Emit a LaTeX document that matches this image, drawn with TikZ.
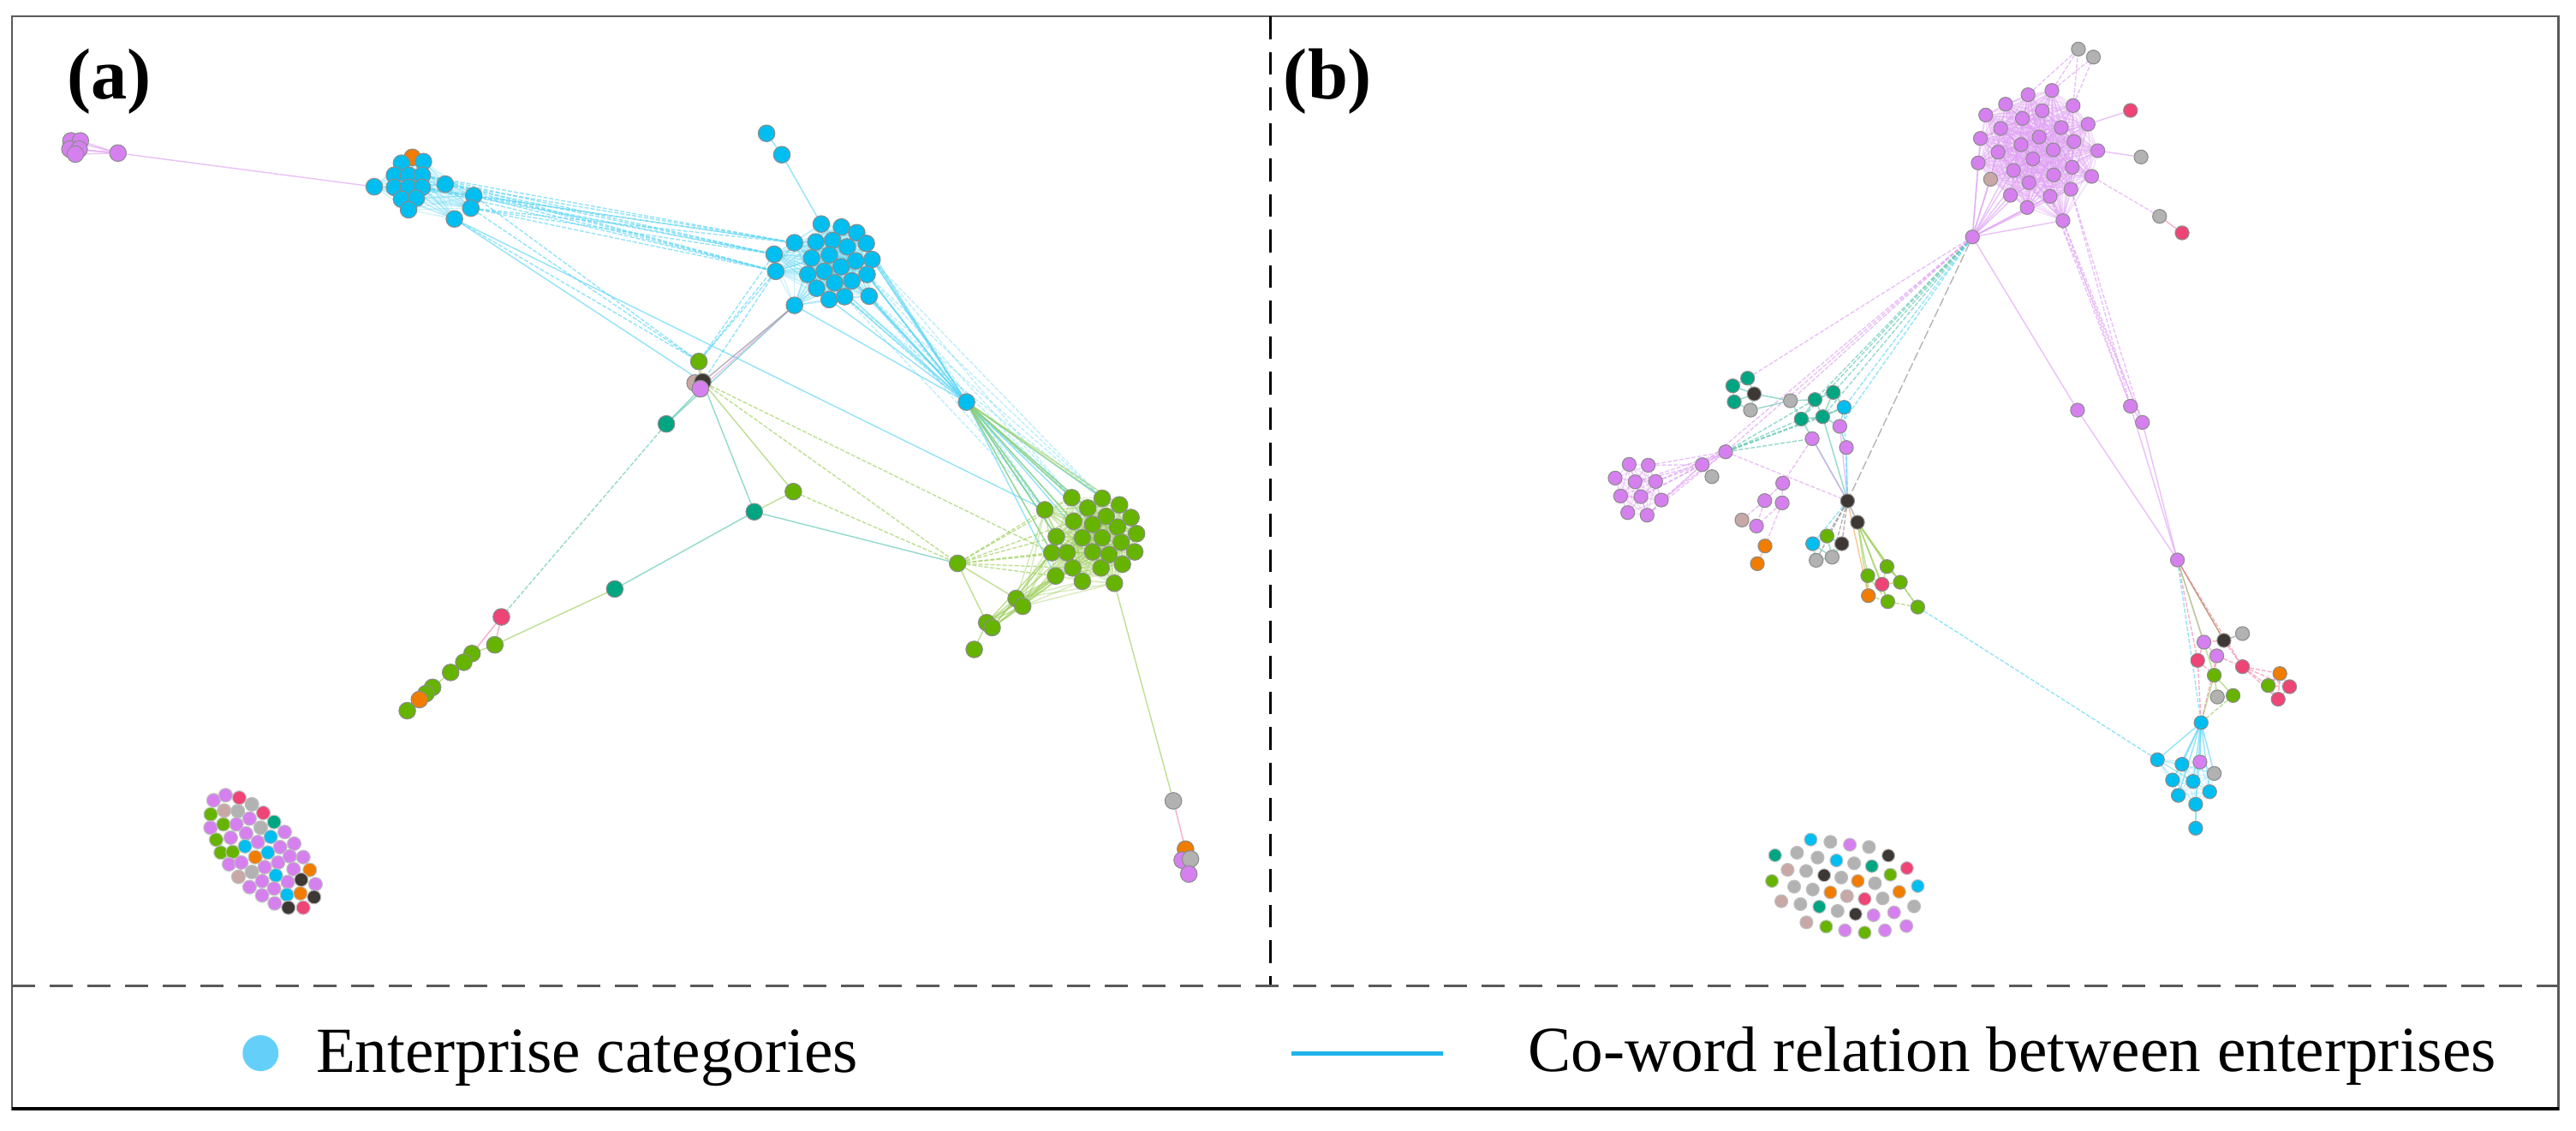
\documentclass[tikz,border=0pt]{standalone}
\usepackage{fontspec}
\setmainfont{Liberation Serif}
\pgfdeclarelayer{bglayer}
\pgfdeclarelayer{edgelayer}
\pgfsetlayers{bglayer,edgelayer,main}
\definecolor{cbl}{RGB}{0,190,240}
\definecolor{cgr}{RGB}{102,180,0}
\definecolor{cpu}{RGB}{214,128,240}
\definecolor{cte}{RGB}{0,165,130}
\definecolor{cgy}{RGB}{178,178,178}
\definecolor{cdk}{RGB}{62,56,52}
\definecolor{cor}{RGB}{240,125,0}
\definecolor{cpk}{RGB}{238,68,118}
\definecolor{ctn}{RGB}{200,168,166}
\definecolor{clg}{RGB}{100,208,250}
\definecolor{cll}{RGB}{30,180,235}
\definecolor{cfr}{RGB}{90,90,90}
\tikzset{
 nd/.style={circle, inner sep=0pt, minimum size=1.95mm, draw=black!45, line width=0.3pt},
 nb/.style={nd, minimum size=1.62mm},
 ni/.style={nd, minimum size=1.6mm, draw=black!25},
 ed/.style={line width=0.4pt, opacity=0.65},
 ebl/.style={ed, draw=cbl!65},
 egr/.style={ed, draw=cgr!65},
 epu/.style={ed, draw=cpu!75},
 ete/.style={ed, draw=cte!65},
 epk/.style={ed, draw=cpk!65},
 egy/.style={ed, draw=black!45},
 eor/.style={ed, draw=cor!65},
 ebr/.style={ed, draw=brown!80!black},
 dsh/.style={dash pattern=on 1.4pt off 0.6pt},
 haze/.style={line width=0.35pt, opacity=0.3},
 lbl/.style={anchor=base west, inner sep=0pt, font=\fontsize{24}{24}\selectfont\bfseries},
 legtxt/.style={anchor=base west, inner sep=0pt, font=\fontsize{21.4}{21.4}\selectfont},
}
\newcommand\densegraph[3]{%
  \pgfmathtruncatemacro\dgm{#2-1}%
  \foreach \i in {1,...,\dgm}{%
    \pgfmathtruncatemacro\dgk{\i+1}%
    \foreach \j in {\dgk,...,#2}{\draw[#3] (#1\i) -- (#1\j);}}}
\begin{document}
\begin{tikzpicture}[x=0.19184mm, y=-0.19184mm]
\useasboundingbox (0,0) rectangle (1568,688.6);
\begin{pgfonlayer}{bglayer}
\fill[white] (0,0) rectangle (1568,688.6);
\end{pgfonlayer}
% frame
\draw[cfr, line width=0.7pt] (7.3,10) rectangle (1557.4,675.2);
\draw[black, line width=1.1pt] (7.3,675.2) -- (1557.4,675.2);
\draw[black, line width=0.9pt, dash pattern=on 2.65mm off 1.5mm] (773.3,10) -- (773.3,600.3);
\draw[black!65, line width=1pt, dash pattern=on 2.7mm off 1.7mm] (7.3,600.3) -- (1557.4,600.3);
\node[lbl] (laba) at (40.5,60) {(a)};
\node[lbl] (labb) at (781,60) {(b)};
% legend
\node[circle, fill=clg, inner sep=0pt, minimum size=4.2mm] (legc) at (158.6,641.2) {};
\node[legtxt] (legt1) at (192,653) {Enterprise categories};
\coordinate (lla) at (786,641.5);
\coordinate (llb) at (878.4,641.5);
\draw[cll, line width=1.4pt] (lla) -- (llb);
\node[legtxt] (legt2) at (930,652.5) {Co-word relation between enterprises};

% ---------------- panel (a) nodes
\foreach \n/\x/\y/\c in {
pa1/43.2/85.8/cpu, pa2/48.9/85.8/cpu, pa3/42.6/90.8/cpu, pa4/48.2/90.8/cpu, pa5/45.9/93.8/cpu, pa6/71.8/93.2/cpu,
a1/251.0/95.8/cor, a2/244.4/99.4/cbl, a3/257.7/98.4/cbl, a4/240.1/106.7/cbl, a5/248.7/106.7/cbl, a6/257.0/106.7/cbl, a7/240.1/114.1/cbl, a8/248.7/114.1/cbl, a9/257.0/114.1/cbl, a10/227.8/113.7/cbl, a11/244.4/121.3/cbl, a12/253.4/120.7/cbl, a13/248.7/127.7/cbl, a14/271.0/112.1/cbl, a15/288.3/119.1/cbl, a16/286.6/126.7/cbl, a17/276.6/133.3/cbl,
u1/466.6/81.2/cbl, u2/475.9/94.2/cbl,
c1/499.9/136.4/cbl, c2/512.2/138.2/cbl, c3/521.5/141.7/cbl, c4/483.6/147.8/cbl, c5/496.6/147.3/cbl, c6/506.8/146.4/cbl, c7/527.3/148.2/cbl, c8/515.7/150.3/cbl, c9/471.2/154.8/cbl, c10/494.0/157.1/cbl, c11/504.8/155.2/cbl, c12/520.8/158.9/cbl, c13/530.8/158.0/cbl, c14/472.2/165.2/cbl, c15/491.7/167.1/cbl, c16/501.7/165.2/cbl, c17/512.0/162.4/cbl, c18/527.8/167.1/cbl, c19/497.1/175.5/cbl, c20/508.0/172.2/cbl, c21/518.5/171.0/cbl, c22/504.7/182.4/cbl, c23/514.1/180.6/cbl, c24/529.0/180.3/cbl, c25/483.6/185.9/cbl,
g1/425.4/220.1/cgr, t1/423.1/233.2/ctn, k1/427.7/232.5/cdk, p1/426.3/236.7/cpu,
tm1/405.6/258.1/cte, tm2/459.1/311.6/cte, tm3/374.2/358.6/cte, g2/482.9/299.3/cgr, bs/588.3/244.8/cbl, g3/582.9/343.0/cgr,
G1/652.3/303.0/cgr, G2/670.9/303.4/cgr, G3/681.4/307.4/cgr, G4/636.0/310.4/cgr, G5/662.1/309.3/cgr, G6/673.3/314.4/cgr, G7/688.4/315.1/cgr, G8/653.5/317.4/cgr, G9/665.1/319.3/cgr, G10/680.2/320.9/cgr, G11/691.8/324.9/cgr, G12/643.0/326.7/cgr, G13/658.8/327.4/cgr, G14/670.9/327.4/cgr, G15/682.5/330.2/cgr, G16/640.2/336.5/cgr, G17/649.5/336.5/cgr, G18/665.1/336.0/cgr, G19/675.1/337.7/cgr, G20/690.7/336.0/cgr, G21/653.0/345.8/cgr, G22/670.2/345.8/cgr, G23/683.2/343.5/cgr, G24/642.5/350.7/cgr, G25/658.8/353.9/cgr, G26/678.3/355.1/cgr,
h1/618.5/364.4/cgr, h2/622.5/369.1/cgr, h3/600.6/379.1/cgr, h4/603.9/382.1/cgr, h5/593.0/395.4/cgr,
r1/305.2/375.6/cpk, ch1/301.2/392.6/cgr, ch2/287.3/397.9/cgr, ch3/282.3/403.2/cgr, ch4/274.3/409.4/cgr, ch5/263.3/418.5/cgr, ch6/259.3/422.3/cgr, ch7/255.3/425.9/cor, ch8/247.9/432.7/cgr,
q1/714.2/487.6/cgy, q2/721.6/517.0/cor, q3/719.6/523.7/cpu, q4/724.6/523.0/cgy, q5/723.6/532.1/cpu}
{\node[nd, fill=\c] (\n) at (\x,\y) {};}

% isolated cluster (a)
\begin{scope}[shift={(104.3,469.2)}, scale=0.17377]
\foreach \x/\y/\c [count=\k] in {148/104/cpu, 190/86/cpu, 238/95/cpk, 138/153/cgr, 185/140/ctn, 233/142/cgy, 282/118/cgy, 322/148/cpk, 137/200/cpu, 182/188/cgr, 228/188/cpu, 274/168/cpu, 313/200/cgy, 360/180/cte, 157/242/cgr, 208/235/cpu, 262/220/cpu, 303/250/cpu, 348/232/cbl, 397/215/cpu, 173/287/cgr, 215/285/cgr, 258/265/cbl, 294/303/cor, 338/287/cbl, 381/268/cpu, 430/256/cpu, 202/328/cpu, 245/322/cpu, 282/355/cgy, 327/338/cpu, 374/322/cpu, 415/300/cpu, 462/303/cpu, 235/372/ctn, 274/408/cpu, 318/387/cpu, 366/367/cbl, 408/390/cpu, 428/345/cpu, 485/348/cor, 318/437/cpu, 360/413/cpu, 405/435/cbl, 455/382/cdk, 505/398/cpu, 362/465/cpu, 452/430/cor, 500/443/cdk, 410/480/cdk, 462/480/cpk}
{\node[ni, fill=\c] (i\k) at (\x,\y) {};}
\end{scope}

% ---------------- panel (b) nodes
\begin{scope}[shift={(1146.9,0)}, xscale=0.26863, yscale=0.17377]
\foreach \n/\x/\y/\c in {
P1/380/317/cpu, P2/326/332/cpu, P3/428/370/cpu, P4/275/365/cpu, P5/358/388/cpu, P6/230/403/cpu, P7/313/415/cpu, P8/462/435/cpu, P9/264/450/cpu, P10/401/447/cpu, P11/218/485/cpu, P12/351/480/cpu, P13/430/496/cpu, P14/310/507/cpu, P15/484/528/cpu, P16/258/533/cpu, P17/383/525/cpu, P18/337/557/cpu, P19/213/571/cpu, P20/426/586/cpu, P21/293/597/cpu, P22/470/618/cpu, P23/384/613/cpu, P24/241/628/ctn, P25/328/640/cpu, P26/423/663/cpu, P27/286/684/cpu, P28/376/688/cpu, P29/324/727/cpu, P30/405/773/cpu,
ph/200/830/cpu, bg1/440/172/cgy, bg2/474/200/cgy, bk1/558/387/cpk, bg3/582/550/cgy, bg4/624/758/cgy, bk2/675/816/cpk, bp1/438/1437/cpu, bp2/558/1423/cpu, bp3/585/1480/cpu}
{\node[nb, fill=\c] (\n) at (\x,\y) {};}
\end{scope}

\begin{scope}[shift={(938.3,198.1)}, scale=0.17377]
\foreach \n/\x/\y/\c in {
T1/722/185/cte, T2/670/212/cte, T3/745/240/cdk, T4/675/268/cte, T5/732/297/cgy, T6/872/264/cgy, T7/958/260/cte, T8/1022/235/cte, T9/1060/287/cbl, T10/910/328/cte, T11/985/320/cte,
R1/1045/354/cpu, R2/948/397/cpu, R3/1068/428/cpu, R4/645/443/cpu, R5/563/488/cpu, R6/597/530/cgy,
Q1/307/487/cpu, Q2/374/490/cpu, Q3/258/535/cpu, Q4/328/548/cpu, Q5/400/547/cpu, Q6/277/598/cpu, Q7/348/600/cpu, Q8/420/612/cpu, Q9/302/656/cpu, Q10/370/665/cpu,
S1/845/553/cpu, S2/782/614/cpu, S3/843/622/cpu, S4/702/682/ctn, S5/753/703/cpu, S6/783/773/cor, S7/756/835/cor,
K1/1072/615/cdk, K2/1107/690/cdk, M1/1000/738/cgr, M2/950/765/cbl, M3/1052/765/cdk, M4/962/823/cgy, M5/1018/812/cgy,
N1/1210/845/cgr, N2/1143/877/cgr, N3/1193/907/cpk, N4/1257/900/cgr, N5/1145/947/cor, N6/1213/968/cgr, N7/1318/987/cgr}
{\node[nb, fill=\c] (\n) at (\x,\y) {};}
\end{scope}

\begin{scope}[shift={(1225.1,286.7)}, scale=0.17377]
\foreach \n/\x/\y/\c in {
V1/577/312/cpu, V2/805/570/cgy, V3/740/594/cdk, V4/670/600/cpu, V5/715/648/cpu, V6/648/664/cpk, V7/805/686/cpk, V8/706/716/cgr, V9/936/710/cor, V10/895/752/cgr, V11/970/756/cpk, V12/930/800/cpk, V13/717/792/cgy, V14/772/787/cgr,
L0/660/882/cbl, L1/507/1012/cbl, L2/593/1028/cbl, L3/656/1020/cpu, L4/706/1060/cgy, L5/560/1083/cbl, L6/632/1088/cbl, L7/690/1124/cbl, L8/580/1137/cbl, L9/641/1168/cbl, L10/641/1252/cbl}
{\node[nb, fill=\c] (\n) at (\x,\y) {};}
\end{scope}

% isolated cluster (b)
\begin{scope}[shift={(1053.0,500.4)}, scale=0.17377]
\foreach \x/\y/\c [count=\k] in {283/62/cbl, 352/70/cgy, 420/80/cpu, 487/88/cgy, 158/117/cte, 235/108/cgy, 307/125/cgy, 373/135/cbl, 435/145/cgy, 497/155/cte, 555/118/cdk, 620/162/cpk, 202/168/ctn, 267/172/cgy, 330/187/cdk, 390/195/cgy, 448/207/cor, 508/215/cgy, 562/185/cgr, 147/207/cgr, 658/225/cbl, 225/227/cgy, 290/237/cgy, 352/247/cor, 410/260/ctn, 472/270/cpk, 535/268/cgy, 593/245/cor, 180/278/ctn, 247/288/cgy, 313/297/cte, 377/312/cgy, 440/323/cdk, 503/327/cpu, 575/317/cpu, 645/296/cgy, 268/352/ctn, 337/367/cgr, 403/380/cpu, 472/388/cgr, 543/380/cpu, 618/365/cpu}
{\node[ni, fill=\c, minimum size=1.5mm] (j\k) at (\x,\y) {};}
\end{scope}

% ---------------- edges
\begin{pgfonlayer}{edgelayer}
% panel (a)
\foreach \s in {pa1,pa2,pa3,pa4,pa5}{\draw[epu] (\s) -- (pa6);}
\densegraph{pa}{5}{epu}
\draw[epu] (pa6) -- (a10);
\densegraph{a}{17}{ebl,haze}
\foreach \s in {a14,a15,a16,a6,a9}{\foreach \t in {c9,c14,c4}{\draw[ebl,dsh] (\s) -- (\t);}}
\foreach \s in {a15,a16,a17}{\draw[ebl,dsh] (\s) -- (g1);}
\draw[ebl] (a17) -- (k1);
\draw[ebl] (a17) -- (G4);
\densegraph{c}{25}{ebl,haze}
\draw[ebl] (u1) -- (u2);
\draw[ebl] (u2) -- (c1);
\foreach \s in {c9,c14,c4}{\draw[ebl,dsh] (\s) -- (g1);}
\draw[ebl,dsh] (c14) -- (k1);
\draw[ete] (c25) -- (tm1);
\draw[epu] (c25) -- (p1);
\draw[egy] (c25) -- (k1);
\foreach \s in {c3,c7,c13,c12,c18,c17,c21,c22,c23,c24,c20,c25}{\draw[ebl] (\s) -- (bs);}
\foreach \s in {c13,c18,c24,c23}{\foreach \t in {G1,G4,G2}{\draw[ebl,dsh,opacity=0.4] (\s) -- (\t);}}
\foreach \t in {G1,G4,G5,G8,G12,G16,G2,G9,G13,G17,G24}{\draw[ebl] (bs) -- (\t);}
\foreach \t in {G1,G4,G8,G12,G16,G5,G3,G7}{\draw[egr] (bs) -- (\t);}
\draw[egr] (g1) -- (k1);
\draw[egr] (g1) -- (p1);
\draw[egr,dsh] (k1) -- (g3);
\draw[egr,dsh] (k1) -- (G16);
\draw[egr] (k1) -- (g2);
\draw[ete] (k1) -- (tm2);
\draw[ete] (p1) -- (tm1);
\draw[ete,dsh] (tm1) -- (r1);
\draw[ete] (tm2) -- (tm3);
\draw[egr] (tm2) -- (g2);
\draw[ete] (tm2) -- (g3);
\draw[egr,dsh] (g2) -- (g3);
\draw[egr] (tm3) -- (ch1);
\draw[epk] (r1) -- (ch1);
\draw[epk] (r1) -- (ch2);
\foreach \s/\t in {ch1/ch2,ch2/ch3,ch3/ch4,ch4/ch5,ch5/ch6,ch6/ch7,ch7/ch8}{\draw[egr] (\s) -- (\t);}
\foreach \t in {G4,G12,G16,G24,G8,G1,G17,G21}{\draw[egr,dsh] (g3) -- (\t);}
\draw[egr] (g3) -- (h3);
\draw[egr] (g3) -- (h1);
\foreach \s in {h1,h2}{\foreach \t in {G16,G24,G21,G25,G17,G12,G4,G13,G26}{\draw[egr,opacity=0.4] (\s) -- (\t);}}
\foreach \s in {h3,h4}{\foreach \t in {h1,h2,G24,G21,G16}{\draw[egr] (\s) -- (\t);}}
\draw[egr] (h5) -- (h3);
\densegraph{G}{26}{egr,haze}
\draw[egr] (G26) -- (q1);
\draw[epk] (q1) -- (q2);
\foreach \s/\t in {q2/q3,q2/q4,q3/q5,q4/q5}{\draw[epk] (\s) -- (\t);}
% panel (b)
\densegraph{P}{30}{epu,haze,opacity=0.4}
\foreach \t in {P19,P24,P27,P29,P30,P21,P25,P16,P11,P28,P26,P18,P14}{\draw[epu] (ph) -- (\t);}
\foreach \s/\t in {P1/bg1,P3/bg1,P3/bg2,P1/bg2,P2/bg1}{\draw[epu,dsh] (\s) -- (\t);}
\draw[epu] (P8) -- (bk1);
\draw[epu] (P15) -- (bg3);
\draw[epu,dsh] (P22) -- (bg4);
\draw[epk] (bg4) -- (bk2);
\foreach \t in {T7,T8,T10,T11}{\draw[ete,dsh] (ph) -- (\t);}
\foreach \t in {T9,R1}{\draw[ebl,dsh] (ph) -- (\t);}
\foreach \t in {R4,R5,T6,T1}{\draw[epu,dsh] (ph) -- (\t);}
\draw[egy,dash pattern=on 3pt off 1pt] (ph) -- (K1);
\draw[epu] (ph) -- (bp1);
\draw[epu] (bp1) -- (V1);
\foreach \s in {P30,P26,P28}{\foreach \t in {bp2,bp3}{\draw[epu,dsh] (\s) -- (\t);}}
\draw[epu] (bp2) -- (bp3);
\draw[epu] (bp2) -- (V1);
\draw[epu] (bp3) -- (V1);
\densegraph{Q}{10}{epu,haze,opacity=0.4}
\foreach \s in {Q2,Q5,Q8,Q4,Q10,Q7}{\draw[epu,dsh] (\s) -- (R5); \draw[epu,dsh] (\s) -- (R4);}
\draw[epu] (R5) -- (R4);
\foreach \t in {T10,T11,T7,R2,T9}{\draw[ete,dsh] (R4) -- (\t);}
\draw[epu,dsh] (R4) -- (K1);
\foreach \s/\t in {T1/T3,T2/T3,T4/T3,T5/T3,T1/T2,T2/T4,T4/T5,T3/T6,T6/T10,T6/T7,T5/T6}{\draw[ete] (\s) -- (\t);}
\foreach \s/\t in {T7/T8,T7/T10,T7/T11,T8/T11,T8/T9,T9/T11,T10/T11,T9/R1,T11/R1,R1/R3}{\draw[ete] (\s) -- (\t);}
\foreach \s in {T10,T11}{\draw[ete] (\s) -- (K1);}
\draw[epu] (R1) -- (K1);
\draw[ebl] (R3) -- (K1);
\draw[ebl,dsh] (T9) -- (K1);
\draw[epu] (R2) -- (K1);
\draw[epu,dsh] (R2) -- (S1);
\foreach \s/\t in {S1/S2,S1/S3,S2/S5,S2/S4,S3/S6,S3/S5}{\draw[epu,dsh] (\s) -- (\t);}
\draw[eor] (S6) -- (S7);
\draw[egy] (K1) -- (K2);
\foreach \t in {M1,M3,M4,M5}{\draw[egy,dsh] (K1) -- (\t);}
\draw[ebl,dsh] (K1) -- (M2);
\foreach \s/\t in {M1/M2,M1/M3,M2/M4,M3/M5,M4/M5,M1/M5,M2/M5}{\draw[ete] (\s) -- (\t);}
\foreach \t in {N1,N2,N4,N6,N7,N3,N5}{\draw[egr] (K2) -- (\t);}
\draw[eor] (K1) -- (N5);
\foreach \s/\t in {N1/N3,N2/N3,N3/N4,N3/N6,N2/N5,N5/N6,N6/N7,N4/N7,N1/N4,N2/N6}{\draw[egr,dsh] (\s) -- (\t);}
\draw[ebl,dsh] (N7) -- (L1);
\draw[ebr] (V1) -- (V3);
\draw[epu] (V1) -- (V4);
\draw[epk,dsh] (V1) -- (V6);
\draw[ebl,dsh] (V1) -- (L0);
\draw[egr] (V1) -- (V8);
\draw[epk,dsh] (V1) -- (V7);
\draw[egy] (V3) -- (V2);
\foreach \s/\t in {V3/V7,V3/V4,V4/V5,V5/V8,V5/V7,V6/V8,V4/V6}{\draw[epk,dsh] (\s) -- (\t);}
\foreach \t in {V9,V10,V11,V12}{\draw[epk,dsh] (V7) -- (\t);}
\foreach \s/\t in {V9/V10,V9/V11,V10/V12,V11/V12,V10/V11,V9/V12}{\draw[epk,dsh] (\s) -- (\t);}
\draw[egr] (V8) -- (V13);
\draw[egr] (V8) -- (V14);
\draw[egr] (V8) -- (L0);
\draw[epk,dsh] (V6) -- (L0);
\draw[epk,dsh] (V5) -- (L0);
\draw[egr,dsh] (V14) -- (L0);
\foreach \t in {L1,L2,L3,L4,L5,L6,L7,L8,L9}{\draw[ebl] (L0) -- (\t);}
\densegraph{L}{9}{ebl,haze}
\draw[ebl] (L9) -- (L10);
\end{pgfonlayer}
\end{tikzpicture}
\end{document}
